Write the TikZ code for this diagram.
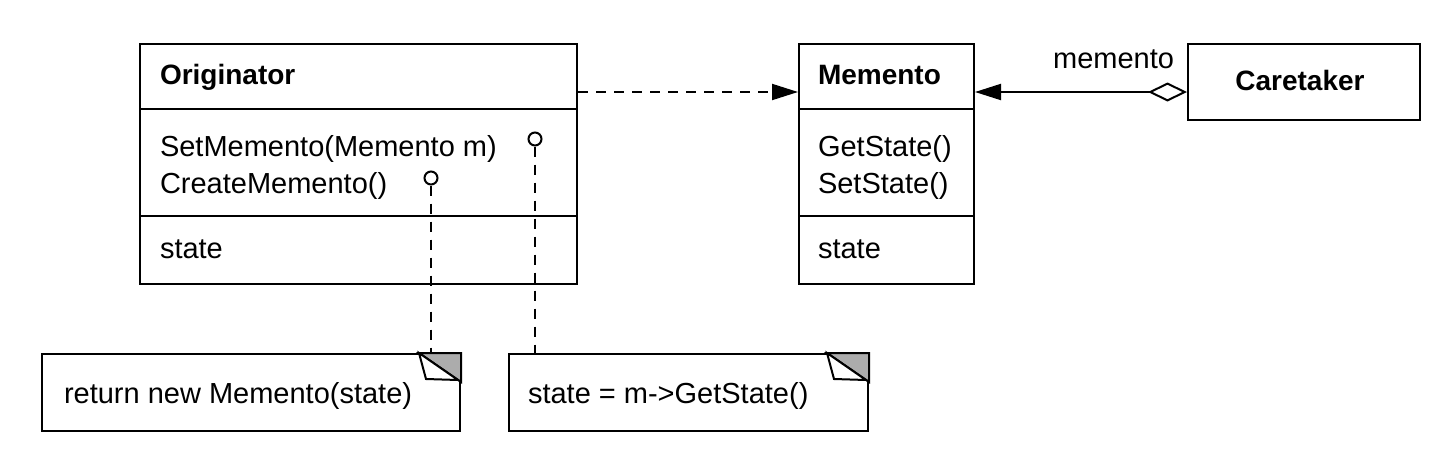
\documentclass[tikz,border=0pt]{standalone}
\usepackage{fontspec}
\setmainfont{Liberation Sans}
\usetikzlibrary{arrows.meta}

\tikzset{
  box/.style={draw, line width=2pt, inner sep=0pt, anchor=north west},
  member/.style={anchor=base west, inner sep=0pt, font=\fontsize{29}{34}\selectfont},
  title/.style={member, font=\fontsize{28}{34}\selectfont\bfseries},
  pin/.style={circle, draw, line width=2pt, fill=white, minimum size=13pt, inner sep=0pt},
  link/.style={line width=2pt, dash pattern=on 10pt off 8pt},
}
\newcommand\dogear[1]{%
  \filldraw[fill=gray!65] ([xshift=-42pt]#1.north east) -- (#1.north east) -- ([yshift=-29pt]#1.north east) -- cycle;
  \filldraw[fill=white] ([xshift=-42pt]#1.north east) -- ([xshift=-35pt,yshift=-26pt]#1.north east) -- ([xshift=-3pt,yshift=-27pt]#1.north east) -- cycle;
}

\begin{document}
\begin{tikzpicture}[x=1pt, y=-1pt, line width=2pt]
\useasboundingbox (0,0) rectangle (1454,474);
% classes
\node[box, minimum width=437pt, minimum height=240pt] (orig) at (139,43) {};
\draw ([yshift=-66pt]orig.north west) -- ([yshift=-66pt]orig.north east);
\draw ([yshift=-173pt]orig.north west) -- ([yshift=-173pt]orig.north east);
\node[box, minimum width=175pt, minimum height=240pt] (mem) at (798,43) {};
\draw ([yshift=-66pt]mem.north west) -- ([yshift=-66pt]mem.north east);
\draw ([yshift=-173pt]mem.north west) -- ([yshift=-173pt]mem.north east);
\node[box, minimum width=232pt, minimum height=76pt] (care) at (1187,43) {};

\node[title] (origname) at (159,84) {Originator};
\node[member] (setm) at (159,156) {SetMemento(Memento m)};
\node[member] (createm) at (159,193) {CreateMemento()};
\node[member] (origstate) at (159,258) {state};
\node[title] (memname) at (817,84) {Memento};
\node[member] (gets) at (817,156) {GetState()};
\node[member] (sets) at (817,193) {SetState()};
\node[member] (memstate) at (817,258) {state};
\node[title, anchor=base] (carename) at (1300,90) {Caretaker};
\node[member, anchor=base east] (role) at (1175,68) {memento};

% notes
\node[box, minimum width=418pt, minimum height=77pt] (note1) at (41,353) {};
\node[box, minimum width=359pt, minimum height=77pt] (note2) at (508,353) {};
\dogear{note1}
\dogear{note2}
\node[member] (note1text) at (63,403) {return new Memento(state)};
\node[member] (note2text) at (527,403) {state = m->GetState()};

% connectors
\draw[link, -{Triangle[length=26pt, width=16pt]}] ([yshift=-49pt]orig.north east) -- ([yshift=-49pt]mem.north west);
\draw[{Triangle[length=26pt, width=16pt]}-{Diamond[length=39pt, width=19pt, fill=white]}] ([yshift=-49pt]mem.north east) -- ([yshift=-49pt]care.north west);

\node[pin] (setpin) at (535,139) {};
\node[pin] (createpin) at (431,178) {};
\draw[link] (setpin) -- (setpin |- note2.north);
\draw[link] (createpin) -- (createpin |- note1.north);
\end{tikzpicture}
\end{document}
